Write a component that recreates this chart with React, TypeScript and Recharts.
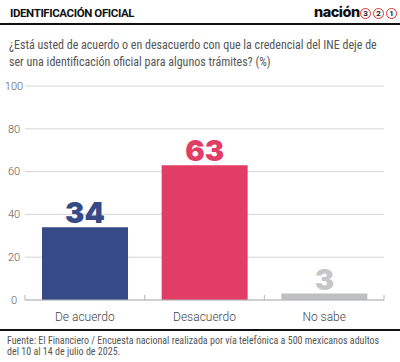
import React from "react";
import { Bar, BarChart, CartesianGrid, Cell, LabelList, XAxis, YAxis } from "recharts";

const categories = ["De acuerdo", "Desacuerdo", "No sabe"];
const values = [34, 63, 3];
const barColors = ["#354a86", "#e23d65", "#bebfc1"];
const labelColors = ["#354a86", "#e23d65", "#c6c6c8"];
const yTicks = [0, 20, 40, 60, 80, 100];

const title = "IDENTIFICACIÓN OFICIAL";
const questionLines = [
  "¿Está usted de acuerdo o en desacuerdo con que la credencial del INE deje de",
  "ser una identificación oficial para algunos trámites?  (%)",
];
const sourceLines = [
  "Fuente: El Financiero / Encuesta nacional realizada por vía telefónica a 500 mexicanos adultos",
  "del 10 al 14 de julio de 2025.",
];

const NARROW = "'Liberation Sans Narrow', 'Roboto Condensed', Roboto, sans-serif";

const CHART_W = 400;
const MARGIN = { top: 86, right: 16, bottom: 6, left: 0 };
const Y_AXIS_W = 25;
const X_TICK_MARGIN = 12;
const AXIS_GRAY = "#b5b5b5";

function YTick(props: { x?: number; y?: number; payload?: { value: number } }) {
  return (
    <text x={14} y={props.y} dy="0.35em" textAnchor="middle" fontSize={11} fill="#555" fontFamily="Roboto, sans-serif" fontWeight={300}>
      {props.payload?.value}
    </text>
  );
}

// category label plus the small upward marks at the band edges
function XTick(props: { x?: number; y?: number; index?: number; payload?: { value: string } }) {
  const x = Number(props.x);
  const y = Number(props.y);
  const band = (CHART_W - MARGIN.left - MARGIN.right - Y_AXIS_W) / categories.length;
  const axisY = y - X_TICK_MARGIN;
  const isLast = props.index === categories.length - 1;
  return (
    <g>
      <line x1={x - band / 2} x2={x - band / 2} y1={axisY} y2={axisY - 5} stroke={AXIS_GRAY} />
      {isLast ? <line x1={x + band / 2} x2={x + band / 2} y1={axisY} y2={axisY - 5} stroke={AXIS_GRAY} /> : null}
      <text x={x} y={y} dy="0.71em" textAnchor="middle" fontSize={12} fill="#444" fontFamily="Roboto, sans-serif" fontWeight={300}>
        {props.payload?.value}
      </text>
    </g>
  );
}

function ValueLabel(props: { x?: number; y?: number; width?: number; value?: number; index?: number }) {
  const x = Number(props.x) + Number(props.width) / 2;
  const i = props.index ?? 0;
  return (
    <text x={x} y={Number(props.y) - 4} textAnchor="middle" fontSize={29} fontWeight={900} fill={labelColors[i]} fontFamily="Inter, sans-serif">
      {props.value}
    </text>
  );
}

function Circled(props: { n: string; left: number }) {
  return (
    <div
      style={{
        position: "absolute",
        left: props.left,
        top: 8,
        width: 9,
        height: 9,
        borderRadius: "50%",
        border: "1.5px solid #e0312f",
        fontSize: 8,
        lineHeight: "9px",
        textAlign: "center",
        fontWeight: 700,
        color: "#222",
        fontFamily: "Roboto, sans-serif",
      }}
    >
      {props.n}
    </div>
  );
}

export default function App() {
  const data = categories.map((name, i) => ({ name, value: values[i] }));

  return (
    <div style={{ position: "absolute", left: 0, top: 0, width: 400, height: 362, background: "#fff", overflow: "hidden" }}>
      <div style={{ position: "absolute", left: 10, top: 6, fontFamily: "Roboto, sans-serif", fontWeight: 700, fontSize: 11.5, letterSpacing: -0.4, color: "#111", whiteSpace: "nowrap" }}>
        {title}
      </div>
      <div style={{ position: "absolute", left: 314, top: 3, fontFamily: "Inter, sans-serif", fontWeight: 800, fontSize: 14.5, letterSpacing: -0.5, color: "#111" }}>
        nación
      </div>
      <Circled n="3" left={360} />
      <Circled n="2" left={373} />
      <Circled n="1" left={386} />
      <div style={{ position: "absolute", left: 0, top: 23, width: 400, height: 2, background: "#111" }} />

      {questionLines.map((line, i) => (
        <div key={i} style={{ position: "absolute", left: 9, top: 38 + i * 17, fontFamily: NARROW, fontSize: 12, color: "#555", whiteSpace: "nowrap" }}>
          {line}
        </div>
      ))}

      <div style={{ position: "absolute", left: 0, top: 0 }}>
        <BarChart width={CHART_W} height={330} data={data} margin={MARGIN} barCategoryGap={17}>
          <CartesianGrid vertical={false} stroke="#d6d6d6" />
          <XAxis
            dataKey="name"
            stroke={AXIS_GRAY}
            tickLine={false}
            tickSize={0}
            tickMargin={X_TICK_MARGIN}
            height={24}
            tick={<XTick />}
            interval={0}
          />
          <YAxis width={Y_AXIS_W} domain={[0, 100]} ticks={yTicks} axisLine={false} tickLine={false} tick={<YTick />} />
          <Bar dataKey="value" isAnimationActive={false}>
            {data.map((d, i) => (
              <Cell key={d.name} fill={barColors[i]} />
            ))}
            <LabelList dataKey="value" content={<ValueLabel />} />
          </Bar>
        </BarChart>
      </div>

      <div style={{ position: "absolute", left: 0, top: 329, width: 400, height: 2, background: "#111" }} />
      {sourceLines.map((line, i) => (
        <div key={i} style={{ position: "absolute", left: 7, top: 335 + i * 11, fontFamily: NARROW, fontSize: 10, color: "#555", whiteSpace: "nowrap" }}>
          {line}
        </div>
      ))}
    </div>
  );
}
